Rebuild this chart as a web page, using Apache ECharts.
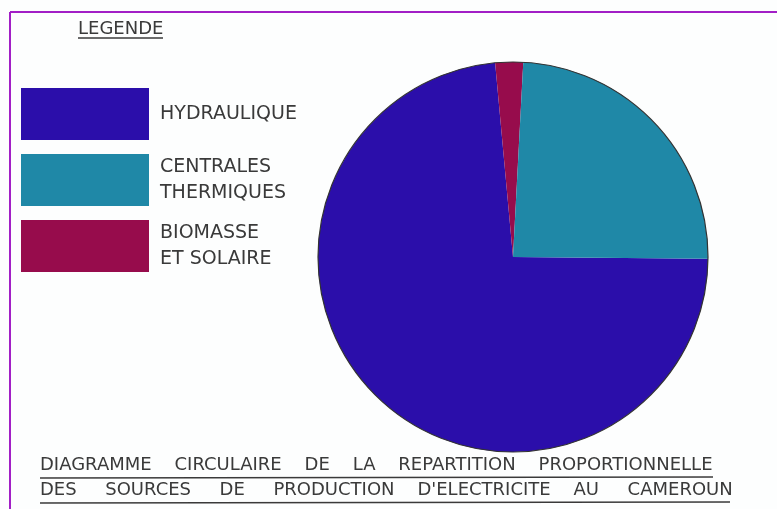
<!DOCTYPE html>
<html>
<head>
<meta charset="utf-8">
<script src="https://cdn.jsdelivr.net/npm/echarts@6/dist/echarts.min.js"></script>
<style>
  html, body { margin: 0; padding: 0; background: #fdfefe; }
  #main { width: 777px; height: 509px; }
</style>
</head>
<body>
<div id="main"></div>
<script>
var sources = ['HYDRAULIQUE', 'BIOMASSE\nET SOLAIRE', 'CENTRALES\nTHERMIQUES'];
var shares = [73.4, 2.3, 24.3];
var colors = ['#2b0eaa', '#970c4c', '#1f88a7'];
var legendOrder = ['HYDRAULIQUE', 'CENTRALES\nTHERMIQUES', 'BIOMASSE\nET SOLAIRE'];
var titleLine1 = 'DIAGRAMME    CIRCULAIRE    DE    LA    REPARTITION    PROPORTIONNELLE';
var titleLine2 = 'DES     SOURCES     DE     PRODUCTION    D\'ELECTRICITE    AU     CAMEROUN';

var chart = echarts.init(document.getElementById('main'));

var pieData = sources.map(function (name, i) {
  return { name: name, value: shares[i], itemStyle: { color: colors[i] } };
});

var ink = '#3a3a3a';
var font = 'DejaVu Sans';
var capStyle = { fontFamily: font, fontSize: 18, fontWeight: 'normal', color: ink };

var option = {
  backgroundColor: '#fdfefe',
  animation: false,
  title: [
    { text: 'LEGENDE', left: 78, top: 20, padding: 0, textStyle: capStyle },
    { text: titleLine1, left: 40, top: 456, padding: 0, textStyle: capStyle },
    { text: titleLine2, left: 40, top: 481, padding: 0, textStyle: capStyle }
  ],
  legend: {
    orient: 'vertical',
    left: 21,
    top: 88,
    padding: 0,
    data: legendOrder,
    icon: 'rect',
    itemWidth: 128,
    itemHeight: 52,
    itemGap: 14,
    selectedMode: false,
    textStyle: {
      fontFamily: font,
      fontSize: 19,
      color: ink,
      lineHeight: 26,
      padding: [0, 0, 0, 6]
    }
  },
  series: [
    {
      type: 'pie',
      center: [513, 257],
      radius: 195,
      startAngle: -0.5,
      clockwise: true,
      silent: true,
      label: { show: false },
      labelLine: { show: false },
      itemStyle: { borderWidth: 0 },
      data: pieData
    },
    {
      type: 'pie',
      name: 'outline',
      center: [513, 257],
      radius: 195,
      silent: true,
      label: { show: false },
      labelLine: { show: false },
      itemStyle: { color: 'transparent', borderColor: '#333', borderWidth: 1.2 },
      data: [{ name: 'outline', value: 1 }]
    }
  ],
  graphic: [
    { type: 'line', shape: { x1: 10, y1: 12, x2: 777, y2: 12 }, style: { stroke: '#a21fc6', lineWidth: 2 } },
    { type: 'line', shape: { x1: 10, y1: 12, x2: 10, y2: 509 }, style: { stroke: '#a21fc6', lineWidth: 2 } },
    { type: 'line', shape: { x1: 78, y1: 38, x2: 163, y2: 38 }, style: { stroke: ink, lineWidth: 1.5 } },
    { type: 'line', shape: { x1: 40, y1: 478, x2: 713, y2: 477 }, style: { stroke: ink, lineWidth: 1.3 } },
    { type: 'line', shape: { x1: 40, y1: 503, x2: 730, y2: 502 }, style: { stroke: ink, lineWidth: 1.3 } }
  ]
};

chart.setOption(option);
</script>
</body>
</html>
